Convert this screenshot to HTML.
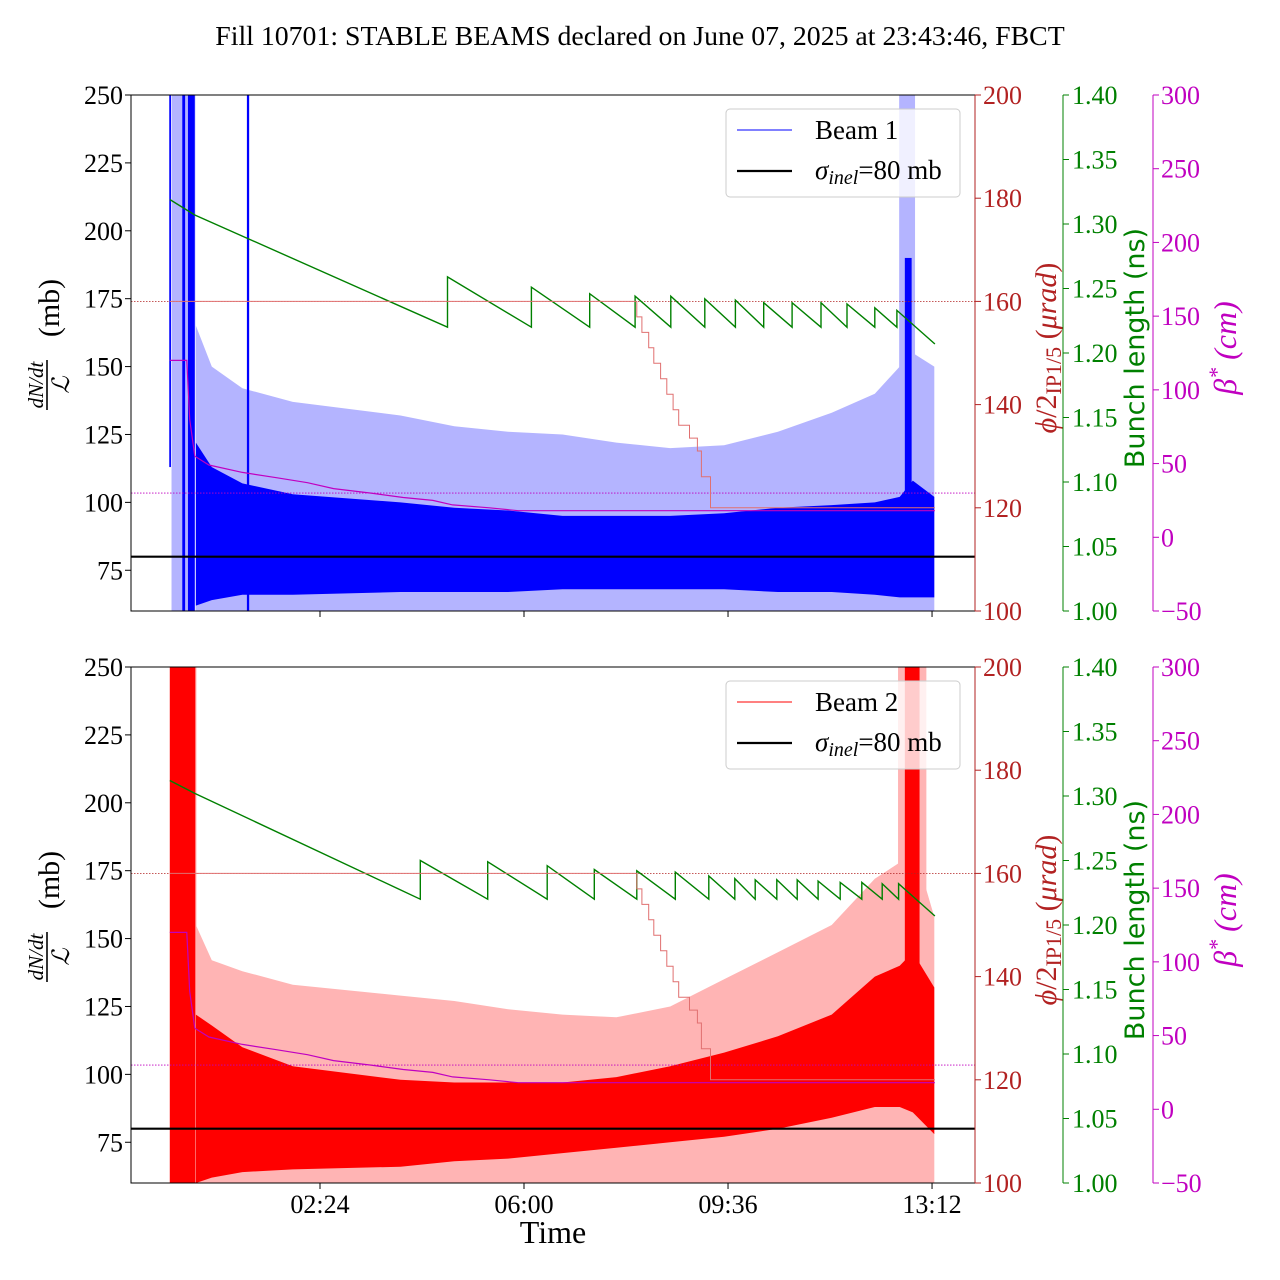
<!DOCTYPE html>
<html><head><meta charset="utf-8"><style>
html,body{margin:0;padding:0;background:#fff;}
svg{display:block;font-family:"Liberation Serif",serif;}
</style></head><body>
<svg id="chart" width="1280" height="1280" viewBox="0 0 1280 1280" xmlns="http://www.w3.org/2000/svg">
<text x="640" y="45" text-anchor="middle" font-size="27.8">Fill 10701: STABLE BEAMS declared on June 07, 2025 at 23:43:46, FBCT</text>
<defs>
<clipPath id="clip0"><rect x="131" y="95" width="844" height="516"/></clipPath>
<clipPath id="clip1"><rect x="131" y="667" width="844" height="516"/></clipPath>
</defs>
<text x="553" y="1243" text-anchor="middle" font-size="32">Time</text>
</svg>
<script>
// ---- data (clock hours on June 8; negative = June 7) ----
const xTickVals = [2.4, 6.0, 9.6, 13.2];
const xTickLabels = ["02:24", "06:00", "09:36", "13:12"];
const leftTicks = [75, 100, 125, 150, 175, 200, 225, 250];
const redTicks = [100, 120, 140, 160, 180, 200];
const greenTicks = [1.00, 1.05, 1.10, 1.15, 1.20, 1.25, 1.30, 1.35, 1.40];
const magTicks = [-50, 0, 50, 100, 150, 200, 250, 300];

const bandT = [0.21, 0.49, 1.03, 1.92, 3.82, 4.77, 5.72, 6.68, 7.63, 8.58, 9.53, 10.48, 11.43, 12.19, 12.63, 12.86, 13.24];
const blueLightHi = [165, 150, 142, 137, 132, 128, 126, 125, 122, 120, 121, 126, 133, 140, 150, 155, 150];
const blueLightLo = [55, 55, 55, 55, 55, 55, 55, 55, 55, 55, 55, 55, 55, 55, 55, 55, 55];
const blueDarkHi = [122, 113, 107, 103, 100, 98, 97, 95, 95, 95, 96, 98, 99, 100, 102, 108, 102];
const blueDarkLo = [62, 64, 66, 66, 67, 67, 67, 68, 68, 68, 68, 67, 67, 66, 65, 65, 65];

const redLightHi = [155, 142, 138, 133, 129, 127, 124, 122, 121, 125, 135, 145, 155, 172, 178, 185, 158];
const redLightLo = [55, 55, 55, 55, 55, 55, 55, 55, 55, 55, 55, 55, 55, 55, 55, 55, 55];
const redDarkHi = [122, 118, 110, 103, 98, 97, 97, 97, 99, 103, 108, 114, 122, 136, 140, 145, 132];
const redDarkLo = [60, 62, 64, 65, 66, 68, 69, 71, 73, 75, 77, 80, 84, 88, 88, 86, 78];

const blueBurstT0 = [-0.26, -0.03, 0.07, 1.11, 12.72];
const blueBurstT1 = [-0.23, 0.02, 0.19, 1.15, 12.84];
const blueBurstLo = [113, 60, 60, 60, 80];
const blueBurstHi = [260, 260, 260, 260, 190];
const blueLBurstT0 = [-0.22, 12.62];
const blueLBurstT1 = [0.2, 12.9];
const blueLBurstHi = [260, 260];

const redBurstT0 = [-0.25, 12.72];
const redBurstT1 = [0.2, 12.98];
const redBurstLo = [60, 95];
const redBurstHi = [260, 260];
const redLBurstT0 = [-0.25, 12.6];
const redLBurstT1 = [0.22, 13.1];
const redLBurstHi = [260, 260];

const greenTopT = [-0.25, 0.19, 4.65, 4.65, 6.13, 6.13, 7.16, 7.16, 7.96, 7.96, 8.59, 8.59, 9.19, 9.19, 9.73, 9.73, 10.23, 10.23, 10.73, 10.73, 11.24, 11.24, 11.7, 11.7, 12.19, 12.19, 12.58, 12.58, 13.25];
const greenTopV = [1.319, 1.307, 1.220, 1.259, 1.220, 1.251, 1.220, 1.246, 1.220, 1.244, 1.220, 1.244, 1.220, 1.242, 1.220, 1.241, 1.220, 1.239, 1.220, 1.239, 1.220, 1.239, 1.220, 1.238, 1.220, 1.235, 1.220, 1.233, 1.207];
const greenBotRefill = [4.17, 5.36, 6.41, 7.24, 7.99, 8.67, 9.26, 9.72, 10.08, 10.46, 10.82, 11.19, 11.58, 11.96, 12.32, 12.61];
const greenBotPeak = [1.250, 1.249, 1.246, 1.243, 1.242, 1.241, 1.238, 1.236, 1.235, 1.235, 1.235, 1.234, 1.233, 1.233, 1.232, 1.232];
const greenBotStartT = [-0.25, 0.19];
const greenBotStartV = [1.312, 1.302];
const greenTrough = 1.220;
const greenEnd = [13.25, 1.207];

const magT = [-0.25, 0.05, 0.1, 0.19, 0.44, 1.03, 1.63, 2.18, 2.64, 3.3, 3.87, 4.39, 4.74, 5.39, 5.9, 13.25];
const magV = [120, 120, 80, 55, 49, 44, 40.4, 37, 33, 30, 27, 25, 22, 20, 18, 18];

const xingT = [-0.25, 7.96, 7.99, 8.08, 8.2, 8.29, 8.41, 8.52, 8.63, 8.73, 8.92, 9.06, 9.13, 9.29, 13.25];
const xingV = [160, 160, 157, 154, 151, 148, 145, 142, 139, 136, 133.5, 131, 126, 120, 120];

const sigmaInel = 80;
const refRed = 160;
const refMag = 30;

// ---- scales ----
const L = 131, R = 975, H = 516;
function xs(h) { return 320 + (h - 2.4) * 56.67; }
function yL(v, top) { return top + (250 - v) * H / 190; }
function yR(v, top) { return top + (200 - v) * H / 100; }
function yG(v, top) { return top + (1.40 - v) * H / 0.40; }
function yM(v, top) { return top + (300 - v) * H / 350; }

const svg = document.getElementById('chart');
const NS = 'http://www.w3.org/2000/svg';
function mk(tag, attrs, parent) {
  const e = document.createElementNS(NS, tag);
  for (const k in attrs) e.setAttribute(k, attrs[k]);
  (parent || svg).appendChild(e);
  return e;
}
function band(T, hi, lo, top) {
  let pts = [];
  for (let i = 0; i < T.length; i++) pts.push(xs(T[i]).toFixed(1) + ',' + yL(hi[i], top).toFixed(1));
  for (let i = T.length - 1; i >= 0; i--) pts.push(xs(T[i]).toFixed(1) + ',' + yL(lo[i], top).toFixed(1));
  return pts.join(' ');
}
function poly(T, V, yf, top) {
  return T.map((t, i) => xs(t).toFixed(1) + ',' + yf(V[i], top).toFixed(1)).join(' ');
}
function stepPoly(T, V, yf, top) {
  let pts = [];
  for (let i = 0; i < T.length; i++) {
    if (i > 0) pts.push(xs(T[i]).toFixed(1) + ',' + yf(V[i - 1], top).toFixed(1));
    pts.push(xs(T[i]).toFixed(1) + ',' + yf(V[i], top).toFixed(1));
  }
  return pts.join(' ');
}

const panels = [
  { top: 95, name: 'beam1', light: '#b4b4ff', dark: '#0000ff', lHi: blueLightHi, lLo: blueLightLo, dHi: blueDarkHi, dLo: blueDarkLo,
    bT0: blueBurstT0, bT1: blueBurstT1, bLo: blueBurstLo, bHi: blueBurstHi, lbT0: blueLBurstT0, lbT1: blueLBurstT1, lbHi: blueLBurstHi, label: 'Beam 1' },
  { top: 667, name: 'beam2', light: '#ffb4b4', dark: '#ff0000', lHi: redLightHi, lLo: redLightLo, dHi: redDarkHi, dLo: redDarkLo,
    bT0: redBurstT0, bT1: redBurstT1, bLo: redBurstLo, bHi: redBurstHi, lbT0: redLBurstT0, lbT1: redLBurstT1, lbHi: redLBurstHi, label: 'Beam 2' }
];

panels.forEach((p, pi) => {
  const top = p.top, bot = top + H;
  const g = mk('g', { 'clip-path': 'url(#clip' + pi + ')' });
  
  

  const lb = mk('polygon', { points: band(bandT, p.lHi, p.lLo, top), fill: p.light }, g);
  
  
  for (let i = 0; i < p.lbT0.length; i++) {
    const r = mk('rect', { x: xs(p.lbT0[i]), y: yL(p.lbHi[i], top), width: xs(p.lbT1[i]) - xs(p.lbT0[i]), height: bot - yL(p.lbHi[i], top), fill: p.light }, g);
    
    
  }
  const db = mk('polygon', { points: band(bandT, p.dHi, p.dLo, top), fill: p.dark }, g);
  
  
  for (let i = 0; i < p.bT0.length; i++) {
    const r = mk('rect', { x: xs(p.bT0[i]), y: yL(p.bHi[i], top), width: xs(p.bT1[i]) - xs(p.bT0[i]), height: yL(p.bLo[i], top) - yL(p.bHi[i], top), fill: p.dark }, g);
    
    
  }

  const rr = mk('line', { x1: L, x2: R, y1: yR(refRed, top), y2: yR(refRed, top), stroke: '#b22222', 'stroke-width': 0.8, 'stroke-dasharray': '1.5,1.5' }, g);
  
  
  const mr = mk('line', { x1: L, x2: R, y1: yM(refMag, top), y2: yM(refMag, top), stroke: '#c000c0', 'stroke-width': 0.8, 'stroke-dasharray': '1.5,1.5' }, g);
  
  

  let gT, gV;
  if (pi === 0) { gT = greenTopT; gV = greenTopV; }
  else {
    gT = greenBotStartT.slice(); gV = greenBotStartV.slice();
    greenBotRefill.forEach((t, i) => { gT.push(t, t); gV.push(greenTrough, greenBotPeak[i]); });
    gT.push(greenEnd[0]); gV.push(greenEnd[1]);
  }
  const gl = mk('polyline', { points: poly(gT, gV, yG, top), fill: 'none', stroke: '#008000', 'stroke-width': 1.4 }, g);
  
  

  const xl = mk('polyline', { points: stepPoly(xingT, xingV, yR, top), fill: 'none', stroke: '#e07070', 'stroke-width': 1 }, g);
  
  

  const ml = mk('polyline', { points: poly(magT, magV, yM, top), fill: 'none', stroke: '#c000c0', 'stroke-width': 1.2 }, g);
  
  

  const sl = mk('line', { x1: L, x2: R, y1: yL(sigmaInel, top), y2: yL(sigmaInel, top), stroke: '#000', 'stroke-width': 2.2 }, g);
  
  

  const fr = mk('rect', { x: L, y: top, width: R - L, height: H, fill: 'none', stroke: '#000', 'stroke-width': 1 });
  
  

  leftTicks.forEach(v => {
    const y = yL(v, top);
    mk('line', { x1: L - 6, x2: L, y1: y, y2: y, stroke: '#000' });
    const t = mk('text', { x: L - 8, y: y + 9, 'text-anchor': 'end', 'font-size': 26 });
    t.textContent = v;
    
    
  });
  xTickVals.forEach((h, i) => {
    const x = xs(h);
    mk('line', { x1: x, x2: x, y1: bot, y2: bot + 6, stroke: '#000' });
    if (pi === 1) {
      const t = mk('text', { x: x, y: bot + 30, 'text-anchor': 'middle', 'font-size': 26 });
      t.textContent = xTickLabels[i];
      
      
    }
  });
  mk('line', { x1: R, x2: R, y1: top, y2: bot, stroke: '#b22222', 'stroke-width': 1 });
  redTicks.forEach(v => {
    const y = yR(v, top);
    mk('line', { x1: R, x2: R + 6, y1: y, y2: y, stroke: '#b22222' });
    const t = mk('text', { x: R + 8, y: y + 9, 'font-size': 26, fill: '#b22222' });
    t.textContent = v;
    
    
  });
  const GX = 1063;
  mk('line', { x1: GX, x2: GX, y1: top, y2: bot, stroke: '#008000', 'stroke-width': 1 });
  greenTicks.forEach(v => {
    const y = yG(v, top);
    mk('line', { x1: GX, x2: GX + 6, y1: y, y2: y, stroke: '#008000' });
    const t = mk('text', { x: GX + 9, y: y + 9, 'font-size': 26, fill: '#008000' });
    t.textContent = v.toFixed(2);
    
    
  });
  const MX = 1153;
  mk('line', { x1: MX, x2: MX, y1: top, y2: bot, stroke: '#c000c0', 'stroke-width': 1 });
  magTicks.forEach(v => {
    const y = yM(v, top);
    mk('line', { x1: MX, x2: MX + 6, y1: y, y2: y, stroke: '#c000c0' });
    const t = mk('text', { x: MX + 8, y: y + 9, 'font-size': 26, fill: '#c000c0' });
    t.textContent = v < 0 ? '\u2212' + (-v) : v;
    
    
  });

  const cy = top + H / 2 - 5;
  const yl = mk('g', { transform: 'translate(50,' + cy + ') rotate(-90)' });
  
  
  let t1 = mk('text', { x: -37, y: -7, 'text-anchor': 'middle', 'font-size': 21, 'font-style': 'italic' }, yl); t1.textContent = 'dN/dt';
  mk('line', { x1: -62, x2: -12, y1: -3, y2: -3, stroke: '#000', 'stroke-width': 1.6 }, yl);
  let t2 = mk('text', { x: -37, y: 19, 'text-anchor': 'middle', 'font-size': 24, 'font-style': 'italic' }, yl); t2.textContent = '\u2112';
  let t3 = mk('text', { x: 40, y: 9, 'text-anchor': 'middle', 'font-size': 30 }, yl); t3.textContent = '(mb)';
  const rl = mk('text', { transform: 'translate(1056,' + cy + ') rotate(-90)', 'text-anchor': 'middle', 'font-size': 30, fill: '#b22222' });
  
  
  rl.innerHTML = '<tspan font-style="italic">\u03d5</tspan>/2<tspan font-size="22" dy="5">IP1/5</tspan><tspan dy="-5"> (</tspan><tspan font-style="italic">\u03bcrad</tspan>)';
  const gll = mk('text', { transform: 'translate(1144,' + cy + ') rotate(-90)', 'text-anchor': 'middle', 'font-size': 27, fill: '#008000', 'font-family': '"DejaVu Sans",sans-serif' });
  
  
  gll.textContent = 'Bunch length (ns)';
  const mgl = mk('text', { transform: 'translate(1236,' + cy + ') rotate(-90)', 'text-anchor': 'middle', 'font-size': 32, fill: '#c000c0', 'font-style': 'italic' });
  
  
  mgl.innerHTML = '\u03b2<tspan font-size="22" dy="-12">*</tspan><tspan dy="12"> (cm)</tspan>';

  const lg = mk('g', {});
  
  
  mk('rect', { x: 726, y: top + 14, width: 234, height: 88, rx: 4, fill: '#fff', 'fill-opacity': 0.8, stroke: '#cccccc' }, lg);
  mk('line', { x1: 737, x2: 792, y1: top + 35, y2: top + 35, stroke: p.dark, 'stroke-width': 1 }, lg);
  const le = mk('text', { x: 815, y: top + 44, 'font-size': 27 }, lg); le.textContent = p.label;
  
  
  mk('line', { x1: 737, x2: 792, y1: top + 76, y2: top + 76, stroke: '#000', 'stroke-width': 2.2 }, lg);
  const ls = mk('text', { x: 815, y: top + 84, 'font-size': 27 }, lg);
  ls.innerHTML = '<tspan font-style="italic">\u03c3</tspan><tspan font-style="italic" font-size="20" dy="5">inel</tspan><tspan dy="-5">=80 mb</tspan>';
  
  
});
</script>
</body></html>
